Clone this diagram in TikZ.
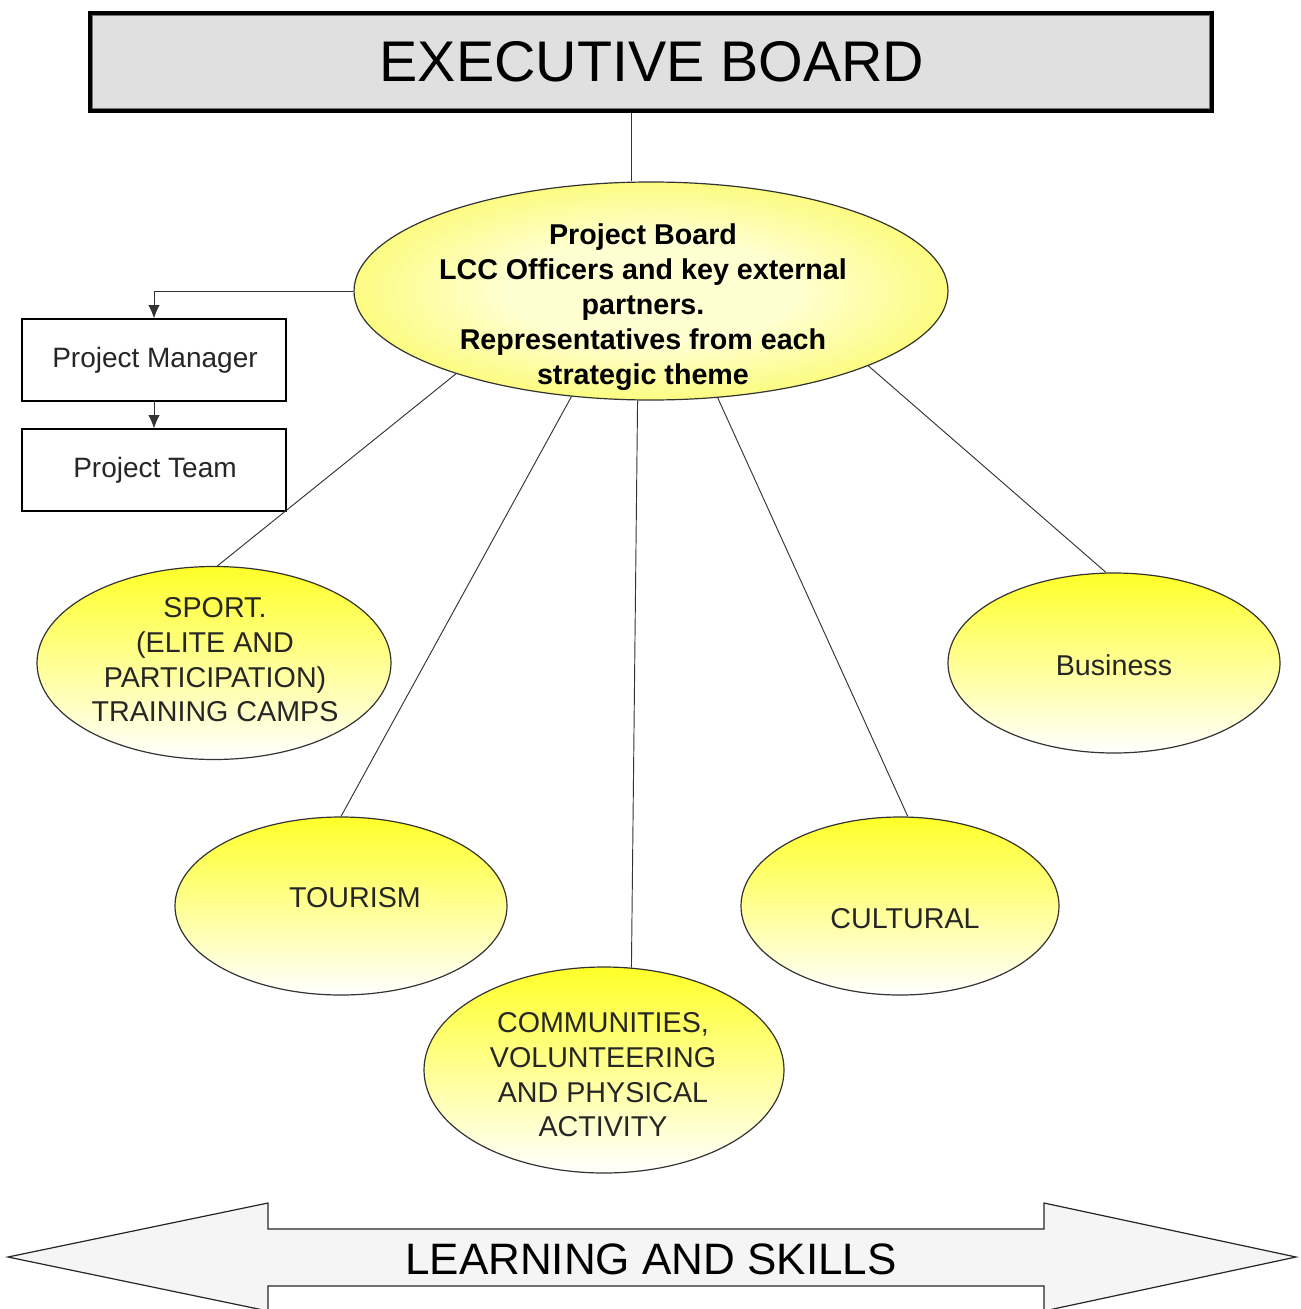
\documentclass[tikz,border=0pt]{standalone}
\usepackage{fontspec}
\setmainfont{Liberation Sans}
\usetikzlibrary{arrows.meta,shapes.geometric}
\definecolor{ebfill}{RGB}{224,224,224}
\definecolor{ylw}{RGB}{255,255,40}
\definecolor{pbin}{RGB}{255,255,210}
\definecolor{pbout}{RGB}{248,248,50}
\definecolor{arrfill}{RGB}{245,245,245}
\pgfdeclareradialshading{pbshade}{\pgfpoint{0bp}{0bp}}{color(0bp)=(pbin); color(12bp)=(pbin); color(38bp)=(pbout); color(50bp)=(pbout)}
\tikzset{
  conn/.style={draw=black!80, line width=0.7pt},
  arrowtip/.style={-{Latex[length=10pt,width=8.5pt]}},
  theme/.style={ellipse, draw=black!80, line width=0.9pt, top color=ylw, bottom color=white, inner sep=0pt},
  themetxt/.style={font=\fontsize{21.5}{26}\selectfont, align=center, text=black!85, inner sep=0pt},
  boxnode/.style={rectangle, draw=black, line width=0.8pt, fill=white, minimum width=198pt, minimum height=61.5pt, inner sep=0pt},
  boxtxt/.style={font=\fontsize{21}{25}\selectfont, text=black!85, inner sep=0pt}
}
\begin{document}
\begin{tikzpicture}[x=0.75pt,y=-0.75pt]
\useasboundingbox (0,0) rectangle (1301,1309);
\clip (0,0) rectangle (1301,1309);
\fill[white] (0,0) rectangle (1301,1309);

% Executive board
\node[rectangle, draw=black, line width=3pt, fill=ebfill, minimum width=842pt, minimum height=74pt, inner sep=0pt] (eb) at (651,62) {};
\draw[black!55, line width=0.8pt] ([shift={(5,5)}]eb.north west) rectangle ([shift={(-5,-5)}]eb.south east);
\node[font=\fontsize{43}{48}\selectfont, inner sep=0pt] (ebt) at (652,62) {EXECUTIVE BOARD};

% Project board
\node[ellipse, draw=black!80, line width=0.9pt, shading=pbshade, minimum width=445.5pt, minimum height=163.5pt, inner sep=0pt] (pb) at (651,291) {};
\node[font=\bfseries\fontsize{21.5}{26.25}\selectfont, align=center, inner sep=0pt] (pbt) at (643,307) {Project Board\\LCC Officers and key external\\partners.\\Representatives from each\\strategic theme};

% Project manager / team
\node[boxnode] (pm) at (154,360) {};
\node[boxtxt] (pmt) at (155,360) {Project Manager};
\node[boxnode] (pt) at (154,470) {};
\node[boxtxt] (ptt) at (155,470) {Project Team};

% Themes
\node[theme, minimum width=265.5pt, minimum height=144.75pt] (sport) at (214,663) {};
\node[themetxt] (sportt) at (215,660) {SPORT.\\(ELITE AND\\PARTICIPATION)\\TRAINING CAMPS};
\node[theme, minimum width=249pt, minimum height=133.5pt] (tourism) at (341,906) {};
\node[themetxt] (tourismt) at (355,898) {TOURISM};
\node[theme, minimum width=270pt, minimum height=154.5pt] (comm) at (604,1070) {};
\node[themetxt] (commt) at (603,1075) {COMMUNITIES,\\VOLUNTEERING\\AND PHYSICAL\\ACTIVITY};
\node[theme, minimum width=238.5pt, minimum height=133.5pt] (cultural) at (900,906) {};
\node[themetxt] (culturalt) at (905,919) {CULTURAL};
\node[theme, minimum width=249pt, minimum height=135pt] (business) at (1114,663) {};
\node[themetxt] (businesst) at (1114,665) {Business};

% Connectors
\draw[conn] ([xshift=-15pt]eb.south) -- ([xshift=-15pt]pb.north);
\draw[conn] (pb.203) -- (sport.88);
\draw[conn] (pb.233) -- (tourism.90);
\draw[conn] (pb.263) -- (comm.75);
\draw[conn] (pb.302) -- (cultural.85);
\draw[conn] (pb.341) -- (business.95);
\draw[conn, arrowtip] (pb.west) -| (pm.north);
\draw[conn, arrowtip] (pm.south) -- (pt.north);

% Learning and skills arrow
\path[draw=black!85, line width=0.9pt, fill=arrfill] (8,1257) -- (268,1203) -- (268,1229) -- (1044,1229) -- (1044,1203) -- (1296,1257) -- (1044,1311) -- (1044,1286) -- (268,1286) -- (268,1311) -- cycle;
\node[font=\fontsize{33}{38}\selectfont, inner sep=0pt] (ls) at (651,1259) {LEARNING AND SKILLS};
\end{tikzpicture}
\end{document}
